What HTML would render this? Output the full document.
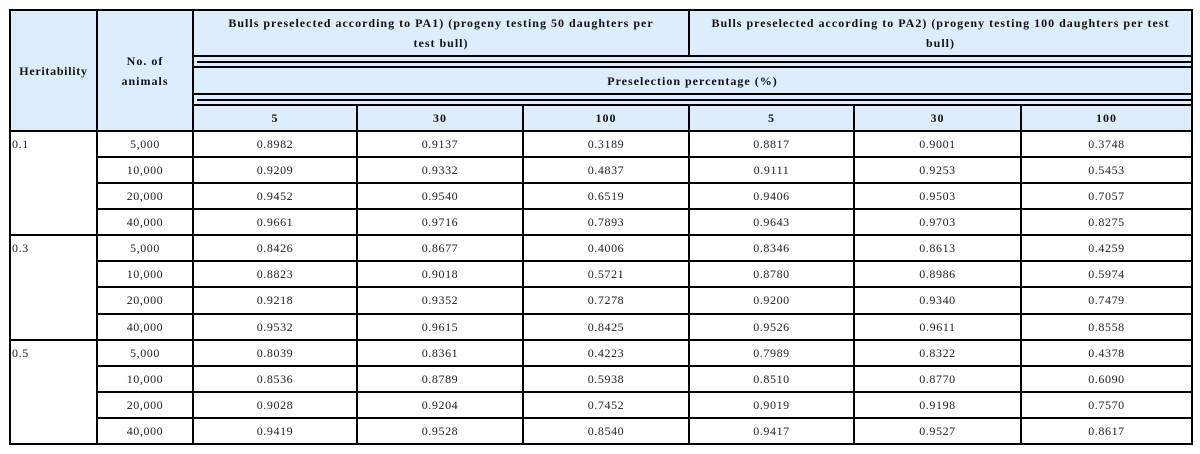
<!DOCTYPE html>
<html><head><meta charset="utf-8"><style>
body{margin:0;width:1200px;height:454px;background:#fff;position:relative;overflow:hidden;font-family:"Liberation Serif",serif;}
.a{position:absolute;}
.h{background:#000;position:absolute;height:2px;}
.v{background:#000;position:absolute;width:2px;}
.t{position:absolute;display:flex;align-items:center;justify-content:center;text-align:center;font-size:12px;letter-spacing:0.6px;color:#222;white-space:pre-line;}
.b{font-weight:bold;color:#111;letter-spacing:1px;line-height:20px;}
</style></head><body>
<div class="a" style="left:9px;top:9px;width:1182px;height:123px;background:#dcedfd"></div>
<div id="tbl"></div>
<script>
const heritabilities=["0.1","0.3","0.5"];
const animals=["5,000","10,000","20,000","40,000"];
const pctLabels=["5","30","100","5","30","100"];
const values=[
["0.8982","0.9137","0.3189","0.8817","0.9001","0.3748"],
["0.9209","0.9332","0.4837","0.9111","0.9253","0.5453"],
["0.9452","0.9540","0.6519","0.9406","0.9503","0.7057"],
["0.9661","0.9716","0.7893","0.9643","0.9703","0.8275"],
["0.8426","0.8677","0.4006","0.8346","0.8613","0.4259"],
["0.8823","0.9018","0.5721","0.8780","0.8986","0.5974"],
["0.9218","0.9352","0.7278","0.9200","0.9340","0.7479"],
["0.9532","0.9615","0.8425","0.9526","0.9611","0.8558"],
["0.8039","0.8361","0.4223","0.7989","0.8322","0.4378"],
["0.8536","0.8789","0.5938","0.8510","0.8770","0.6090"],
["0.9028","0.9204","0.7452","0.9019","0.9198","0.7570"],
["0.9419","0.9528","0.8540","0.9417","0.9527","0.8617"]];
const B=document.body;
const colX=[192,356,522,688,853,1020,1191];
function el(cls,st,txt,name){const d=document.createElement('div');d.className=cls;d.style.cssText=st;if(txt!==undefined)d.textContent=txt;


B.appendChild(d);return d;}
function H(x,y,w){el('h',`left:${x}px;top:${y}px;width:${w}px`,undefined,'rule');}
function V(x,y,h){el('v',`left:${x}px;top:${y}px;height:${h}px`,undefined,'rule');}
H(9,9,1184);H(9,443,1184);V(9,9,436);V(1191,9,436);
V(96,9,436);V(192,9,436);
V(688,9,48);
H(192,55,1000);el('h','left:197px;top:61px;width:994px;height:2px',undefined,'double-rule');H(192,66,1000);
H(192,93,1000);el('h','left:197px;top:99px;width:994px;height:2px',undefined,'double-rule');H(192,104,1000);
H(9,130,1184);
for(let i=1;i<6;i++)V(colX[i],104,341);
const rowY=i=>131+i*26.08;
for(let r=1;r<12;r++){const y=Math.round(rowY(r))-1;
 if(r%4===0)H(9,y,1184);else H(96,y,1097);}
el('t b','left:11px;top:11px;width:85px;height:120px;letter-spacing:0.7px','Heritability','heritability-header');
el('t b','left:98px;top:11px;width:94px;height:120px','No. of\nanimals','animals-header');
el('t b','left:196px;top:11px;width:490px;height:44px','Bulls preselected according to PA1) (progeny testing 50 daughters per\ntest bull)','pa1-header');
el('t b','left:690px;top:11px;width:501px;height:44px','Bulls preselected according to PA2) (progeny testing 100 daughters per test\nbull)','pa2-header');
el('t b','left:194px;top:68px;width:997px;height:25px','Preselection percentage (%)','preselection-header');
pctLabels.forEach((p,i)=>el('t b',`left:${colX[i]+2}px;top:106px;width:${colX[i+1]-colX[i]-2}px;height:24px`,p,'pct-header-'+p));
values.forEach((row,r)=>{const y=Math.round(rowY(r))+1,h=24;
 if(r%4===0)el('t',`left:12px;top:${y}px;width:80px;height:${h}px;justify-content:flex-start`,heritabilities[r/4],'heritability-'+heritabilities[r/4]);
 el('t',`left:98px;top:${y}px;width:94px;height:${h}px`,animals[r%4],'animals-cell');
 row.forEach((v,c)=>el('t',`left:${colX[c]+2}px;top:${y}px;width:${colX[c+1]-colX[c]-2}px;height:${h}px`,v,'value-cell'));
});
</script>
</body></html>
